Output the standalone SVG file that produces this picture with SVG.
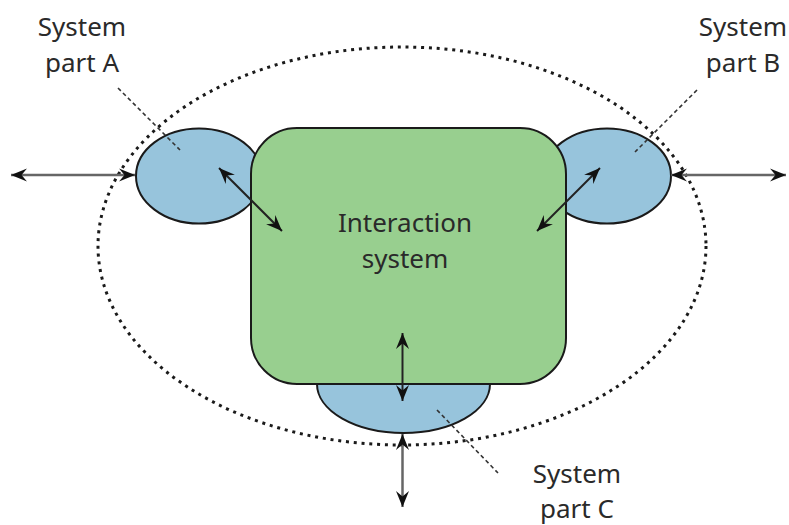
<svg xmlns="http://www.w3.org/2000/svg" width="789" height="525" viewBox="0 0 789 525">
  <defs>
    <marker id="head" markerUnits="userSpaceOnUse" viewBox="-18 -8 19 16" markerWidth="19" markerHeight="16" refX="0" refY="0" orient="auto-start-reverse">
      <path d="M0,0 L-16,-6.5 L-10.5,0 L-16,6.5 Z" fill="#111"/>
    </marker>
  </defs>
  <style>
    .lbl { font-family: "Noto Sans", "Open Sans", "Liberation Sans", sans-serif; font-size: 26px; fill: #2a2a2a; text-anchor: middle; }
    .part { fill: #97c4dc; stroke: #1a1a1a; stroke-width: 2; }
    .core { fill: #98cf8f; stroke: #1a1a1a; stroke-width: 2; }
    .bound { fill: none; stroke: #1a1a1a; stroke-width: 3; stroke-dasharray: 3 4.8; }
    .lead { fill: none; stroke: #333; stroke-width: 1.6; stroke-dasharray: 4 3; }
    .link { fill: none; stroke: #222; stroke-width: 2; marker-start: url(#head); marker-end: url(#head); }
    .ext { stroke: #666; stroke-width: 2.5; }
  </style>
  <rect width="789" height="525" fill="#fff"/>

  <!-- system boundary -->
  <g id="boundary">
    <ellipse class="bound" cx="402" cy="246" rx="304" ry="199"/>
  </g>

  <!-- system parts -->
  <g id="part-a">
    <ellipse class="part" cx="199" cy="176" rx="63" ry="47.5"/>
  </g>
  <g id="part-b">
    <ellipse class="part" cx="607" cy="176" rx="64" ry="47.5"/>
  </g>
  <g id="part-c">
    <ellipse class="part" cx="403.5" cy="384" rx="86.5" ry="49"/>
  </g>

  <!-- interaction system -->
  <g id="interaction">
    <rect class="core" x="251" y="128" width="315" height="256" rx="46" ry="46"/>
    <text class="lbl" x="405" y="232">Interaction</text>
    <text class="lbl" x="405" y="268">system</text>
  </g>

  <!-- labels with leader lines -->
  <g id="label-a">
    <text class="lbl" x="82" y="36">System</text>
    <text class="lbl" x="82" y="72">part A</text>
    <line class="lead" x1="118" y1="88" x2="180" y2="150"/>
  </g>
  <g id="label-b">
    <text class="lbl" x="743" y="36">System</text>
    <text class="lbl" x="743" y="72">part B</text>
    <line class="lead" x1="697" y1="90" x2="635" y2="152"/>
  </g>
  <g id="label-c">
    <text class="lbl" x="577" y="483">System</text>
    <text class="lbl" x="577" y="518">part C</text>
    <line class="lead" x1="437" y1="410" x2="498" y2="473"/>
  </g>

  <!-- connectors -->
  <g id="connectors">
    <line class="link ext" x1="11" y1="175" x2="135" y2="175"/>
    <line class="link ext" x1="671" y1="175" x2="786" y2="175"/>
    <line class="link" x1="219" y1="168" x2="282" y2="231"/>
    <line class="link" x1="600" y1="168" x2="537" y2="231"/>
    <line class="link" x1="402.5" y1="333" x2="402.5" y2="401"/>
    <line class="link ext" x1="402.5" y1="434" x2="402.5" y2="507"/>
  </g>
</svg>
